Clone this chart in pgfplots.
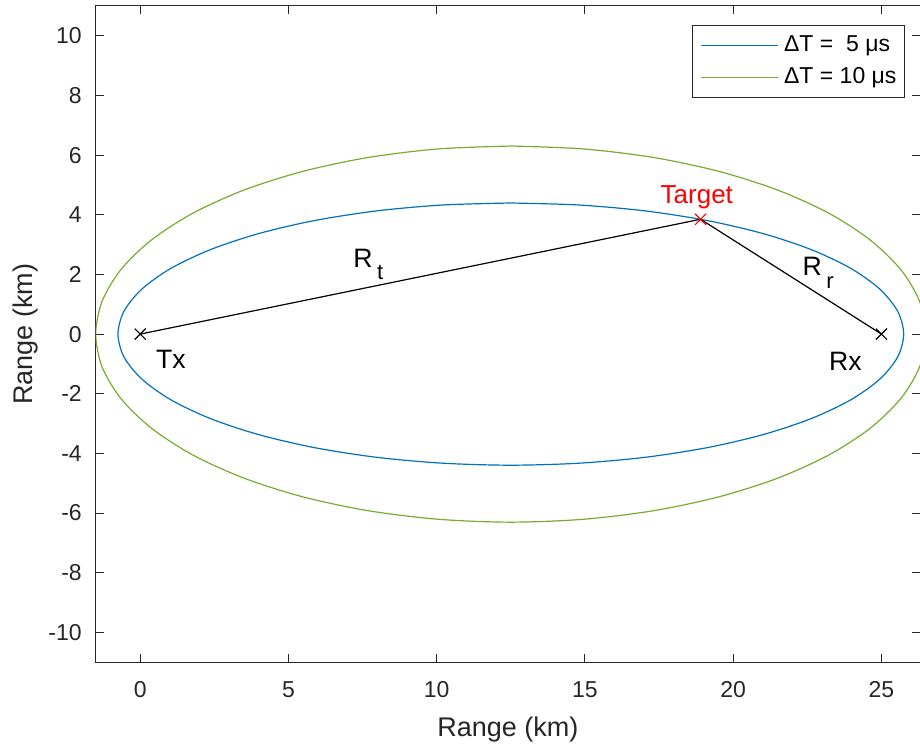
\documentclass[border=0pt]{standalone}
\usepackage{pgfplots}
\pgfplotsset{compat=1.18}
\usepackage{fontspec}
\setmainfont{Liberation Sans}
\definecolor{mblue}{rgb}{0,0.447,0.741}
\definecolor{mgreen}{rgb}{0.466,0.674,0.188}
\definecolor{axgray}{rgb}{0.15,0.15,0.15}
\begin{document}
\begin{tikzpicture}
\begin{axis}[
  at={(0,0)}, anchor=south west,
  scale only axis, width=412pt, height=328pt,
  xmin=-1.5, xmax=26.3, ymin=-11, ymax=11,
  xtick={0,5,...,25}, ytick={-10,-8,...,10},
  tick align=inside,
  axis line style={axgray, line width=0.5pt},
  tick style={axgray, line width=0.5pt},
  major tick length=4pt,
  /pgf/number format/assume math mode=true,
  ticklabel style={font=\fontsize{11.5}{13}\selectfont, text=axgray},
  xticklabel style={anchor=base, inner sep=0pt, yshift=-17.6pt},
  yticklabel style={anchor=east, inner sep=0pt, xshift=-6.8pt},
  xlabel={Range (km)}, ylabel={Range (km)},
  label style={font=\fontsize{13.5}{15}\selectfont, text=axgray},
  xlabel style={at={(axis description cs:0.5,-0.1128)}, anchor=base},
  ylabel style={at={(axis description cs:-0.0769,0.5)}, anchor=base},
  legend style={at={(1,1)}, anchor=north east, xshift=-7.5pt, yshift=-9.5pt,
    draw=axgray, line width=0.5pt, font=\fontsize{11.5}{13}\selectfont,
    inner xsep=4pt, inner ysep=4.5pt, row sep=5pt, column sep=3pt,
    nodes={inner sep=0pt, text height=8.5pt, text depth=2.5pt}},
  legend cell align=left,
  legend image code/.code={\draw[#1] (0pt,0pt) -- (38pt,0pt);},
]
\addplot[mblue, line width=0.6pt, smooth] coordinates {
(12.500,4.395) (10.199,4.328) (7.968,4.130) (5.875,3.806) (3.983,3.367)
(2.350,2.825) (1.025,2.198) (0.049,1.503) (-0.549,0.763) (-0.750,0)
(-0.549,-0.763) (0.049,-1.503) (1.025,-2.198) (2.350,-2.825) (3.983,-3.367)
(5.875,-3.806) (7.968,-4.130) (10.199,-4.328) (12.500,-4.395) (14.801,-4.328)
(17.032,-4.130) (19.125,-3.806) (21.017,-3.367) (22.650,-2.825) (23.975,-2.198)
(24.951,-1.503) (25.549,-0.763) (25.750,0) (25.549,0.763) (24.951,1.503)
(23.975,2.198) (22.650,2.825) (21.017,3.367) (19.125,3.806) (17.032,4.130)
(14.801,4.328) (12.500,4.395)
};
\addlegendentry{ΔT =\ \ 5 μs}
\addplot[mgreen, line width=0.6pt, smooth] coordinates {
(12.500,6.305) (10.069,6.209) (7.712,5.925) (5.500,5.460) (3.501,4.830)
(1.775,4.053) (0.376,3.153) (-0.656,2.156) (-1.287,1.095) (-1.500,0)
(-1.287,-1.095) (-0.656,-2.156) (0.376,-3.153) (1.775,-4.053) (3.501,-4.830)
(5.500,-5.460) (7.712,-5.925) (10.069,-6.209) (12.500,-6.305) (14.931,-6.209)
(17.288,-5.925) (19.500,-5.460) (21.499,-4.830) (23.225,-4.053) (24.624,-3.153)
(25.656,-2.156) (26.287,-1.095) (26.500,0) (26.287,1.095) (25.656,2.156)
(24.624,3.153) (23.225,4.053) (21.499,4.830) (19.500,5.460) (17.288,5.925)
(14.931,6.209) (12.500,6.305)
};
\addlegendentry{ΔT = 10 μs}
\addplot[black, line width=0.6pt, forget plot] coordinates {(0,0) (18.9,3.85) (25,0)};
\addplot[black, only marks, mark=x, mark size=3.9pt, mark options={line width=0.6pt}, forget plot] coordinates {(0,0) (25,0)};
\addplot[red, only marks, mark=x, mark size=3.9pt, mark options={line width=0.6pt}, forget plot] coordinates {(18.9,3.85)};
\node[anchor=base west, inner sep=0pt, font=\fontsize{13.3}{15}\selectfont] at (axis cs:0.52,-1.14) {Tx};
\node[anchor=base west, inner sep=0pt, font=\fontsize{13.3}{15}\selectfont] at (axis cs:23.22,-1.22) {Rx};
\node[anchor=base west, inner sep=0pt, font=\fontsize{13.3}{15}\selectfont] at (axis cs:7.18,2.22) {R\,\raisebox{-6pt}{\fontsize{11}{12}\selectfont t}};
\node[anchor=base west, inner sep=0pt, font=\fontsize{13.3}{15}\selectfont] at (axis cs:22.33,1.95) {R\,\raisebox{-6.5pt}{\fontsize{11}{12}\selectfont r}};
\node[anchor=base west, inner sep=0pt, text=red, font=\fontsize{13}{15}\selectfont] at (axis cs:17.54,4.37) {Target};
\end{axis}
\pgfresetboundingbox
\path (-47.85pt,-42.5pt) rectangle (412pt,331pt);
\end{tikzpicture}
\end{document}
